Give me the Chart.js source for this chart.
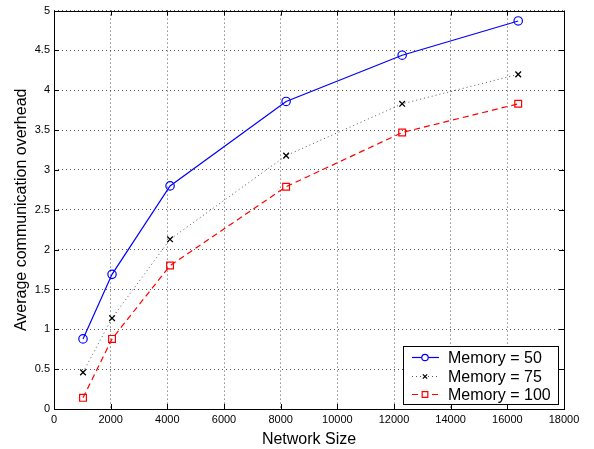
<!DOCTYPE html>
<html>
<head>
<meta charset="utf-8">
<script src="https://cdn.jsdelivr.net/npm/chart.js@4.4.1/dist/chart.umd.min.js"></script>
<style>
  html, body { margin: 0; padding: 0; background: #fff; }
  #wrap { width: 594px; height: 449px; }
</style>
</head>
<body>
<div id="wrap"><canvas id="lineChart" width="594" height="449"></canvas></div>
<script>
// network sizes on the x axis
const networkSizes = [1024, 2048, 4096, 8192, 12288, 16384];
// average overhead
const memory50 = [0.88, 1.69, 2.80, 3.86, 4.44, 4.87];
const memory75 = [0.46, 1.14, 2.13, 3.18, 3.83, 4.20];
const memory100 = [0.14, 0.88, 1.80, 2.79, 3.47, 3.83];
const seriesLabels = ['Memory = 50', 'Memory = 75', 'Memory = 100'];

const FONT = 'Liberation Sans, Arial, Helvetica, sans-serif';

function toPoints(values) {
    let pts = [];
    for (let i = 0; i < values.length; i++) {
        pts.push({x: networkSizes[i], y: values[i]});
    }
    return pts;
}

// box with inward ticks on all four sides, like the original figure
const boxTicks = {
    id: 'boxTicks',
    afterDatasetsDraw(chart) {
        const ctx = chart.ctx;
        const a = chart.chartArea;
        const xs = chart.scales.x, ys = chart.scales.y;
        ctx.save();
        ctx.strokeStyle = '#000';
        ctx.lineWidth = 1;
        ctx.beginPath();
        xs.ticks.forEach(t => {
            let px = Math.round(xs.getPixelForValue(t.value)) + 0.5;
            ctx.moveTo(px, a.bottom); ctx.lineTo(px, a.bottom - 5);
            ctx.moveTo(px, a.top); ctx.lineTo(px, a.top + 5);
        });
        ys.ticks.forEach(t => {
            let py = Math.round(ys.getPixelForValue(t.value)) + 0.5;
            ctx.moveTo(a.left, py); ctx.lineTo(a.left + 5, py);
            ctx.moveTo(a.right, py); ctx.lineTo(a.right - 5, py);
        });
        ctx.stroke();
        ctx.strokeRect(Math.round(a.left) + 0.5, Math.round(a.top) + 0.5,
            Math.round(a.right - a.left), Math.round(a.bottom - a.top));
        ctx.restore();
    }
};

// matlab style legend box in the lower right corner
const legendMarkerSize = [3.2, 3, 4];
const boxLegend = {
    id: 'boxLegend',
    afterDraw(chart) {
        const ctx = chart.ctx;
        const a = chart.chartArea;
        const w = 155, h = 58;
        const x0 = a.right - 6 - w, y0 = a.bottom - 5 - h;
        ctx.save();
        ctx.fillStyle = '#fff';
        ctx.fillRect(x0, y0, w, h);
        ctx.strokeStyle = '#000';
        ctx.lineWidth = 1;
        ctx.strokeRect(Math.round(x0) + 0.5, Math.round(y0) + 0.5, w, h);
        chart.data.datasets.forEach((ds, i) => {
            let cy = Math.round(y0 + 11 + i * 18.5) + 0.5;
            ctx.save();
            ctx.strokeStyle = ds.borderColor;
            ctx.lineWidth = ds.borderWidth;
            ctx.setLineDash(ds.borderDash || []);
            ctx.beginPath();
            ctx.moveTo(x0 + 9, cy); ctx.lineTo(x0 + 36, cy);
            ctx.stroke();
            ctx.restore();
            ctx.save();
            ctx.strokeStyle = ds.pointBorderColor;
            ctx.fillStyle = '#fff';
            ctx.lineWidth = ds.pointBorderWidth || 1;
            Chart.helpers.drawPoint(ctx, {
                pointStyle: ds.pointStyle, radius: legendMarkerSize[i],
                borderWidth: ds.pointBorderWidth || 1, rotation: 0
            }, x0 + 22, cy);
            ctx.restore();
            ctx.fillStyle = '#000';
            ctx.font = '16px ' + FONT;
            ctx.textBaseline = 'middle';
            ctx.fillText(ds.label, x0 + 45, cy + 1);
        });
        ctx.restore();
    }
};

var ctx = document.getElementById('lineChart').getContext('2d');
var lineChart = new Chart(ctx, {
    type: 'line',
    data: {
        datasets: [{
            label: seriesLabels[0],
            data: toPoints(memory50),
            borderColor: '#0000ff',
            backgroundColor: 'rgba(0,0,0,0)',
            pointBorderColor: '#0000ff',
            borderWidth: 1.2,
            pointStyle: 'circle',
            pointRadius: 4.2,
            pointBorderWidth: 1.2
        }, {
            label: seriesLabels[1],
            data: toPoints(memory75),
            borderColor: '#555555',
            backgroundColor: 'rgba(0,0,0,0)',
            pointBorderColor: '#000000',
            borderWidth: 1,
            borderDash: [1, 3],
            pointStyle: 'crossRot',
            pointRadius: 4,
            pointBorderWidth: 1.3
        }, {
            label: seriesLabels[2],
            data: toPoints(memory100),
            borderColor: '#ff0000',
            backgroundColor: 'rgba(0,0,0,0)',
            pointBorderColor: '#ff0000',
            borderWidth: 1.2,
            borderDash: [6, 4],
            pointStyle: 'rect',
            pointRadius: 4.8,
            pointBorderWidth: 1.2
        }]
    },
    options: {
        responsive: false,
        animation: false,
        events: [],
        layout: { padding: { top: 7, right: 30, left: 0, bottom: 0 } },
        plugins: {
            legend: { display: false },
            tooltip: { enabled: false }
        },
        scales: {
            x: {
                type: 'linear',
                min: 0, max: 18000,
                ticks: { stepSize: 2000, color: '#000', font: { size: 11, family: FONT }, maxRotation: 0, padding: 4,
                    callback: v => String(v) },
                grid: { color: '#555', lineWidth: 1, drawTicks: false },
                border: { display: false, dash: [1, 3] },
                title: { display: true, text: 'Network Size', color: '#000', font: { size: 16, family: FONT }, padding: { top: 5.5, bottom: 0 } },
                afterFit(scale) { scale.height = 40; }
            },
            y: {
                min: 0, max: 5,
                ticks: { stepSize: 0.5, color: '#000', font: { size: 11, family: FONT }, padding: 4,
                    callback: v => String(v) },
                grid: { color: '#555', lineWidth: 1, drawTicks: false },
                border: { display: false, dash: [1, 3] },
                title: { display: true, text: 'Average communication overhead', color: '#000', font: { size: 16, family: FONT }, padding: { top: 12, bottom: 0 } },
                afterFit(scale) { scale.width = 54; }
            }
        }
    },
    plugins: [boxTicks, boxLegend]
});
</script>
</body>
</html>
